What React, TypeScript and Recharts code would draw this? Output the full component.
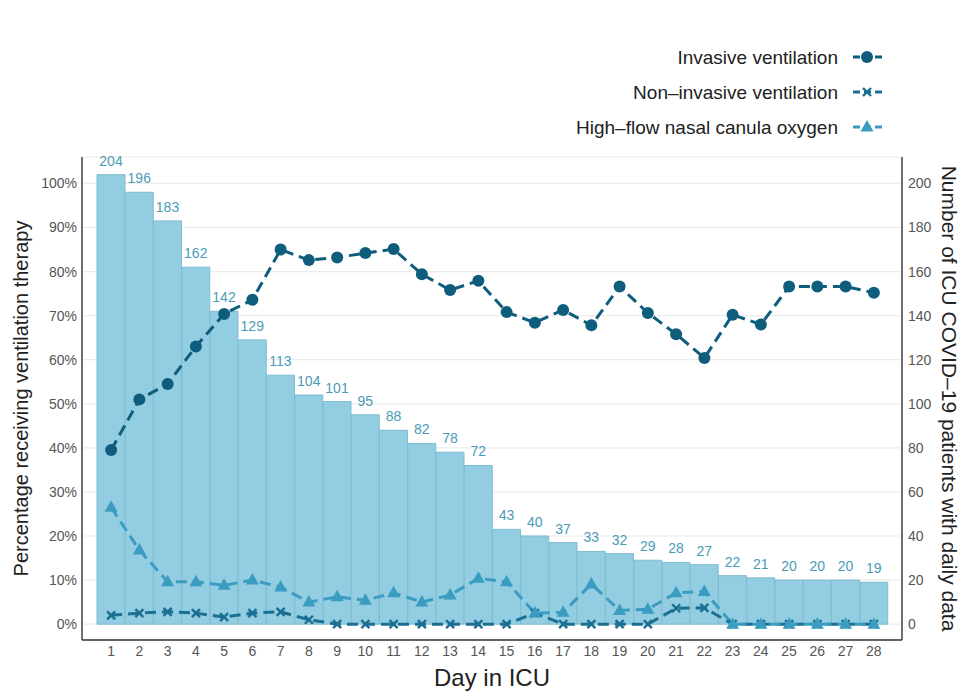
import {
  ComposedChart,
  Bar,
  Line,
  XAxis,
  YAxis,
  CartesianGrid,
  Legend,
  LabelList,
} from "recharts";

// Ventilation therapy by ICU day: bars = patients with daily data (right axis),
// lines = share of those patients on each ventilation mode (left axis).

const DAYS = [
  1, 2, 3, 4, 5, 6, 7, 8, 9, 10, 11, 12, 13, 14,
  15, 16, 17, 18, 19, 20, 21, 22, 23, 24, 25, 26, 27, 28,
];

const PATIENTS = [
  204, 196, 183, 162, 142, 129, 113, 104, 101, 95, 88, 82, 78, 72,
  43, 40, 37, 33, 32, 29, 28, 27, 22, 21, 20, 20, 20, 19,
];

const INVASIVE = [
  39.5, 51, 54.5, 63, 70.4, 73.6, 85, 82.6, 83.2, 84.2, 85.1, 79.4, 75.8, 77.9,
  70.8, 68.4, 71.3, 67.8, 76.6, 70.6, 65.8, 60.4, 70.2, 68, 76.6, 76.6, 76.6, 75.2,
];

const NON_INVASIVE = [
  2, 2.5, 2.8, 2.5, 1.6, 2.5, 2.8, 1, 0, 0, 0, 0, 0, 0,
  0, 2.5, 0, 0, 0, 0, 3.6, 3.7, 0, 0, 0, 0, 0, 0,
];

const HIGH_FLOW = [
  26.5, 16.8, 9.6, 9.6, 8.8, 10, 8.4, 5, 6.2, 5.4, 7.1, 5, 6.6, 10.4,
  9.6, 2.5, 2.7, 9.1, 3.1, 3.4, 7.1, 7.4, 0, 0, 0, 0, 0, 0,
];

const PCT_TICKS = [0, 10, 20, 30, 40, 50, 60, 70, 80, 90, 100];
const COUNT_TICKS = [0, 20, 40, 60, 80, 100, 120, 140, 160, 180, 200];

// count axis is the percent axis doubled, so 200 patients sits on the 100% line
const PCT_DOMAIN: [number, number] = [-3.6, 106];
const COUNT_DOMAIN: [number, number] = [PCT_DOMAIN[0] * 2, PCT_DOMAIN[1] * 2];

const SERIES = [
  { key: "invasive", name: "Invasive ventilation", color: "#0e5d7c", marker: "circle" },
  { key: "nonInvasive", name: "Non\u2013invasive ventilation", color: "#1b6f92", marker: "cross" },
  { key: "highFlow", name: "High\u2013flow nasal canula oxygen", color: "#3a9cc1", marker: "triangle" },
] as const;

const rows = DAYS.map((d, i) => ({
  day: d,
  patients: PATIENTS[i],
  invasive: INVASIVE[i],
  nonInvasive: NON_INVASIVE[i],
  highFlow: HIGH_FLOW[i],
}));

const FONT = "'Liberation Sans', Arial, Helvetica, sans-serif";
const DASH = "11 6";

function Marker({ kind, cx, cy, color }: { kind: string; cx: number; cy: number; color: string }) {
  if (cx == null || cy == null) return null;
  if (kind === "circle") {
    return <circle cx={cx} cy={cy} r={6} fill={color} stroke="none" />;
  }
  if (kind === "triangle") {
    return (
      <polygon
        points={`${cx},${cy - 7} ${cx - 6.5},${cy + 4.5} ${cx + 6.5},${cy + 4.5}`}
        fill={color}
        stroke="none"
      />
    );
  }
  return (
    <g stroke={color} strokeWidth={2.4} strokeLinecap="butt">
      <line x1={cx - 4} y1={cy - 4} x2={cx + 4} y2={cy + 4} />
      <line x1={cx - 4} y1={cy + 4} x2={cx + 4} y2={cy - 4} />
    </g>
  );
}

function makeDot(kind: string, color: string) {
  return (p: any) => <Marker key={`${kind}-${p.index}`} kind={kind} cx={p.cx} cy={p.cy} color={color} />;
}

function LegendBox() {
  return (
    <svg width={340} height={120} style={{ overflow: "visible" }}>
      {SERIES.map((s, i) => {
        const y = 22 + i * 35;
        return (
          <g key={s.key}>
            <text
              x={278}
              y={y}
              textAnchor="end"
              dominantBaseline="central"
              fontSize={19}
              fill="#222"
              fontFamily={FONT}
            >
              {s.name}
            </text>
            <line x1={293} x2={322} y1={y} y2={y} stroke={s.color} strokeWidth={3} strokeDasharray="7 4" />
            <Marker kind={s.marker} cx={307} cy={y} color={s.color} />
          </g>
        );
      })}
    </svg>
  );
}

export default function App() {
  return (
    <div style={{ width: 967, height: 695, background: "#fff" }}>
      <style>{"body{margin:0}"}</style>
      <ComposedChart
        width={967}
        height={695}
        data={rows}
        margin={{ top: 157, right: 0, bottom: 0, left: 0 }}
        barCategoryGap={0}
        style={{ fontFamily: FONT }}
      >
        <CartesianGrid
          yAxisId="pct"
          vertical={false}
          stroke="#ececec"
          strokeWidth={1.2}
        />
        <XAxis
          dataKey="day"
          height={55}
          padding={{ left: 15, right: 14 }}
          tickLine={false}
          tickSize={3}
          tickMargin={3}
          axisLine={{ stroke: "#333", strokeWidth: 1.4 }}
          tick={{ fontSize: 14, fill: "#555" }}
          interval={0}
          label={{
            value: "Day in ICU",
            position: "insideBottom",
            offset: 9,
            style: { fontSize: 24, fill: "#222" },
          }}
        />
        <YAxis
          yAxisId="pct"
          orientation="left"
          width={82}
          domain={PCT_DOMAIN}
          ticks={PCT_TICKS}
          allowDataOverflow
          tickFormatter={(v: number) => `${v}%`}
          tickLine={false}
          tickSize={2}
          tickMargin={3}
          axisLine={{ stroke: "#333", strokeWidth: 1.4 }}
          tick={{ fontSize: 14, fill: "#555" }}
          label={{
            value: "Percentage receiving ventilation therapy",
            angle: -90,
            position: "insideLeft",
            offset: 21,
            style: { fontSize: 20, fill: "#222", textAnchor: "middle" },
          }}
        />
        <YAxis
          yAxisId="count"
          orientation="right"
          width={65}
          domain={COUNT_DOMAIN}
          ticks={COUNT_TICKS}
          allowDataOverflow
          tickLine={false}
          tickSize={3}
          tickMargin={3}
          axisLine={{ stroke: "#333", strokeWidth: 1.4 }}
          tick={{ fontSize: 14, fill: "#555", textAnchor: "start" }}
          label={{
            value: "Number of ICU COVID\u201319 patients with daily data",
            angle: 90,
            position: "insideRight",
            offset: 18,
            style: { fontSize: 21, fill: "#222", textAnchor: "middle" },
          }}
        />
        <Legend
          layout="vertical"
          align="center"
          verticalAlign="middle"
          wrapperStyle={{ top: 35, left: 560, width: 340, height: 120 }}
          content={() => <LegendBox />}
        />
        <Bar
          yAxisId="count"
          dataKey="patients"
          fill="#93cde1"
          stroke="#7fbcd2"
          strokeWidth={1}
          isAnimationActive={false}
          legendType="none"
        >
          <LabelList dataKey="patients" position="top" offset={9} fill="#4a9bb7" fontSize={14} />
        </Bar>
        {SERIES.map((s) => (
          <Line
            key={s.key}
            yAxisId="pct"
            type="linear"
            dataKey={s.key}
            name={s.name}
            stroke={s.color}
            strokeWidth={3}
            strokeDasharray={DASH}
            dot={makeDot(s.marker, s.color)}
            activeDot={false}
            isAnimationActive={false}
          />
        ))}
      </ComposedChart>
    </div>
  );
}
